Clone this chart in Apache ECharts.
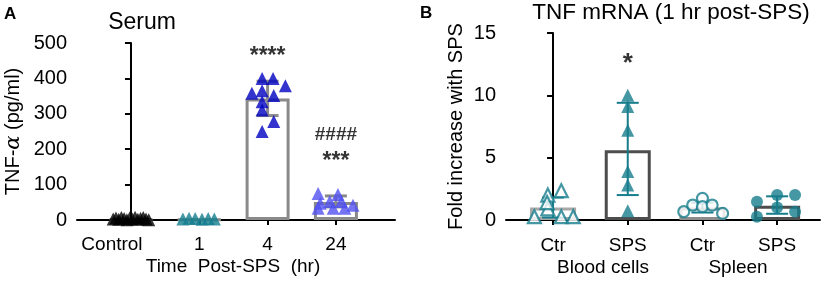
<!DOCTYPE html>
<html>
<head>
<meta charset="utf-8">
<script src="https://cdn.jsdelivr.net/npm/echarts@6/dist/echarts.min.js"></script>
<style>
  html, body { margin: 0; padding: 0; background: #fff; }
  #chart { width: 829px; height: 282px; }
</style>
</head>
<body>
<div id="chart"></div>
<script>
// ---- panel A: serum TNF-alpha ----
var catA = ['Control', '1', '4', '24'];
var meanA = [3, 2, 343, 51];
var errA = [[2, 295, 392], [3, 37, 68]];          // [category, low, high]
var ptsCtrl = [[-0.26, 3], [-0.22, 6], [-0.18, 2], [-0.14, 7], [-0.1, 4], [-0.06, 1], [-0.02, 6],
               [0.02, 3], [0.06, 8], [0.1, 2], [0.14, 5], [0.18, 7], [0.22, 3], [0.26, 1]];
var pts1h = [[-0.24, 3], [-0.15, 5], [-0.06, 4], [0.04, 2], [0.13, 4], [0.22, 3]];
var pts4h = [[-0.08, 400], [0.08, 400], [0.26, 379], [-0.23, 358], [-0.08, 365],
             [0.09, 352], [-0.08, 334], [-0.08, 311], [0.09, 278], [-0.08, 250]];
var pts24h = [[-0.26, 75], [0.03, 72], [-0.23, 47], [-0.09, 52], [0.08, 52],
              [0.25, 42], [-0.26, 33], [-0.04, 33], [0.13, 33]];
var ticksA = [0, 100, 200, 300, 400, 500];

// ---- panel B: TNF mRNA ----
var catB = ['Ctr', 'SPS', 'Ctr', 'SPS'];
var meanB = [1.0, 5.6, 1.0, 1.15];
var errB = [[0, 0.2, 1.8], [1, 2.0, 9.4], [2, 0.6, 1.4], [3, 0.5, 1.9]];
var ptsBloodCtr = [[-0.25, 0.27], [-0.07, 2.0], [0.11, 2.35], [-0.07, 0.9], [-0.08, 1.4], [0.11, 0.27], [0.27, 0.27]];
var ptsBloodSps = [[0, 10.0], [0, 9.1], [0, 7.2], [0, 3.9], [0, 2.8], [0, 0.75]];
var ptsSpleenCtr = [[-0.25, 0.67], [-0.13, 1.2], [0, 1.74], [0, 1.07], [0.13, 1.2], [0.27, 0.53]];
var ptsSpleenSps = [[-0.27, 1.47], [-0.27, 0.27], [0, 2.0], [0, 1.0], [0.24, 2.0], [0.24, 0.67]];
var ticksB = [0, 5, 10, 15];

var FONT = '"Liberation Sans", Arial, sans-serif';
var TEAL = '#167d8c';

function place(cat, pts) {
    return pts.map(function (p) { return [cat + p[0], p[1]]; });
}

function errorBars(color, width, capHalf) {
    return function (params, api) {
        var x = api.value(0);
        var lo = api.coord([x, api.value(1)]);
        var hi = api.coord([x, api.value(2)]);
        var st = { stroke: color, lineWidth: width };
        return {
            type: 'group',
            children: [
                { type: 'line', shape: { x1: lo[0], y1: lo[1], x2: hi[0], y2: hi[1] }, style: st },
                { type: 'line', shape: { x1: lo[0] - capHalf, y1: lo[1], x2: lo[0] + capHalf, y2: lo[1] }, style: st },
                { type: 'line', shape: { x1: hi[0] - capHalf, y1: hi[1], x2: hi[0] + capHalf, y2: hi[1] }, style: st }
            ]
        };
    };
}

function scatter(xi, yi, data, symbol, size, color, open) {
    return {
        type: 'scatter', xAxisIndex: xi, yAxisIndex: yi, data: data,
        symbol: symbol, symbolSize: size, z: 5,
        itemStyle: open ? { color: '#fff', borderColor: color, borderWidth: 2.2 } : { color: color }
    };
}

function note(xi, yi, items, size) {
    return {
        type: 'scatter', xAxisIndex: xi, yAxisIndex: yi, symbolSize: 1, z: 6,
        itemStyle: { color: 'rgba(0,0,0,0)' },
        label: { show: true, position: 'inside', formatter: '{b}', color: '#000',
                 fontSize: size, fontWeight: 'bold', fontFamily: FONT },
        data: items
    };
}

var axisLine = { show: true, lineStyle: { color: '#000', width: 2 } };
var tickStyle = { lineStyle: { color: '#000', width: 2 } };
var labelStyle = { color: '#000', fontSize: 19, fontFamily: FONT };

var chart = echarts.init(document.getElementById('chart'));
var option = {
    animation: false,
    textStyle: { fontFamily: FONT },
    grid: [
        { left: 77, top: 43, width: 318, height: 177 },
        { left: 506, top: 33, width: 314, height: 187 }
    ],
    xAxis: [
        {
            gridIndex: 0, type: 'value', min: -0.79, max: 3.865,
            axisLine: axisLine, splitLine: { show: false },
            axisTick: Object.assign({ customValues: [0, 1, 2, 3], length: 5 }, tickStyle),
            axisLabel: Object.assign({
                customValues: [0, 1, 2, 3], margin: 15,
                formatter: function (v) { return v === 0 ? '{c|' + catA[0] + '}' : catA[v]; },
                rich: { c: { fontSize: 19, fontFamily: FONT, color: '#000', padding: [0, 38, 0, 0] } }
            }, labelStyle)
        },
        {
            gridIndex: 1, type: 'value', min: -0.63, max: 3.574,
            axisLine: axisLine, splitLine: { show: false },
            axisTick: Object.assign({ customValues: [0, 1, 2, 3], length: 5 }, tickStyle),
            axisLabel: Object.assign({
                customValues: [0, 1, 2, 3], margin: 16,
                formatter: function (v) { return catB[v]; }
            }, labelStyle)
        }
    ],
    yAxis: [
        {
            gridIndex: 0, type: 'value', min: 0, max: 500, interval: 100,
            axisLine: axisLine, splitLine: { show: false },
            axisTick: Object.assign({ customValues: ticksA, length: 6 }, tickStyle),
            axisLabel: Object.assign({ customValues: ticksA, margin: 10 }, labelStyle, { fontSize: 20 }),
            name: 'TNF-{a|α} (pg/ml)', nameLocation: 'middle', nameGap: 53, nameRotate: 90,
            nameTextStyle: {
                color: '#000', fontSize: 20, fontFamily: FONT,
                rich: { a: { fontSize: 21, fontStyle: 'italic', fontFamily: '"DejaVu Serif", serif', color: '#000' } }
            }
        },
        {
            gridIndex: 1, type: 'value', min: 0, max: 15, interval: 5,
            axisLine: axisLine, splitLine: { show: false },
            axisTick: Object.assign({ customValues: ticksB, length: 6 }, tickStyle),
            axisLabel: Object.assign({ customValues: ticksB, margin: 10 }, labelStyle, { fontSize: 20 }),
            name: 'Fold increase with SPS', nameLocation: 'middle', nameGap: 40, nameRotate: 90,
            nameTextStyle: { color: '#000', fontSize: 20, fontFamily: FONT }
        }
    ],
    graphic: [
        { type: 'text', left: 4, top: 6, style: { text: 'A', fontSize: 17, fontWeight: 'bold', fill: '#000', fontFamily: FONT } },
        { type: 'text', x: 142, y: 23, style: { text: 'Serum', fontSize: 23, fill: '#000', fontFamily: FONT, align: 'center', verticalAlign: 'middle' } },
        { type: 'text', x: 233, y: 267, style: { text: 'Time  Post-SPS  (hr)', fontSize: 19, fill: '#000', fontFamily: FONT, align: 'center', verticalAlign: 'middle' } },
        { type: 'text', left: 420, top: 5, style: { text: 'B', fontSize: 17, fontWeight: 'bold', fill: '#000', fontFamily: FONT } },
        { type: 'text', x: 671, y: 13, style: { text: 'TNF mRNA (1 hr post-SPS)', fontSize: 22.5, fill: '#000', fontFamily: FONT, align: 'center', verticalAlign: 'middle' } },
        { type: 'text', x: 603, y: 268, style: { text: 'Blood cells', fontSize: 19, fill: '#000', fontFamily: FONT, align: 'center', verticalAlign: 'middle' } },
        { type: 'text', x: 738, y: 268, style: { text: 'Spleen', fontSize: 19, fill: '#000', fontFamily: FONT, align: 'center', verticalAlign: 'middle' } }
    ],
    series: [
        // panel A
        {
            type: 'bar', xAxisIndex: 0, yAxisIndex: 0, barWidth: 44, z: 2,
            data: meanA.map(function (v, i) { return [i, v]; }),
            itemStyle: { color: '#fff', borderColor: '#8a8a8a', borderWidth: 3 }
        },
        { type: 'custom', xAxisIndex: 0, yAxisIndex: 0, z: 3, data: errA, renderItem: errorBars('#8a8a8a', 3, 11) },
        scatter(0, 0, place(0, ptsCtrl), 'triangle', 13, '#000'),
        scatter(0, 0, place(1, pts1h), 'triangle', 13, '#137d8e'),
        scatter(0, 0, place(2, pts4h), 'triangle', 13, '#0000c0'),
        scatter(0, 0, place(3, pts24h), 'triangle', 13, '#5050f0'),
        note(0, 0, [{ name: '****', value: [2, 462] }], 23),
        note(0, 0, [{ name: '####', value: [3, 240] }], 19),
        note(0, 0, [{ name: '***', value: [3, 166] }], 23),
        // panel B
        {
            type: 'bar', xAxisIndex: 1, yAxisIndex: 1, barWidth: 46, z: 2,
            data: meanB.map(function (v, i) {
                return { value: [i, v], itemStyle: { borderColor: ['#a8a8a8', '#4d4d4d', '#8c8c8c', '#4d4d4d'][i] } };
            }),
            itemStyle: { color: '#fff', borderWidth: 3 }
        },
        { type: 'custom', xAxisIndex: 1, yAxisIndex: 1, z: 3, data: errB, renderItem: errorBars(TEAL, 2, 11) },
        scatter(1, 1, place(0, ptsBloodCtr), 'triangle', 13, TEAL, true),
        scatter(1, 1, place(1, ptsBloodSps), 'triangle', 13, TEAL),
        scatter(1, 1, place(2, ptsSpleenCtr), 'circle', 11, TEAL, true),
        scatter(1, 1, place(3, ptsSpleenSps), 'circle', 12, TEAL),
        note(1, 1, [{ name: '*', value: [1, 12.5] }], 26)
    ]
};
chart.setOption(option);
</script>
</body>
</html>
